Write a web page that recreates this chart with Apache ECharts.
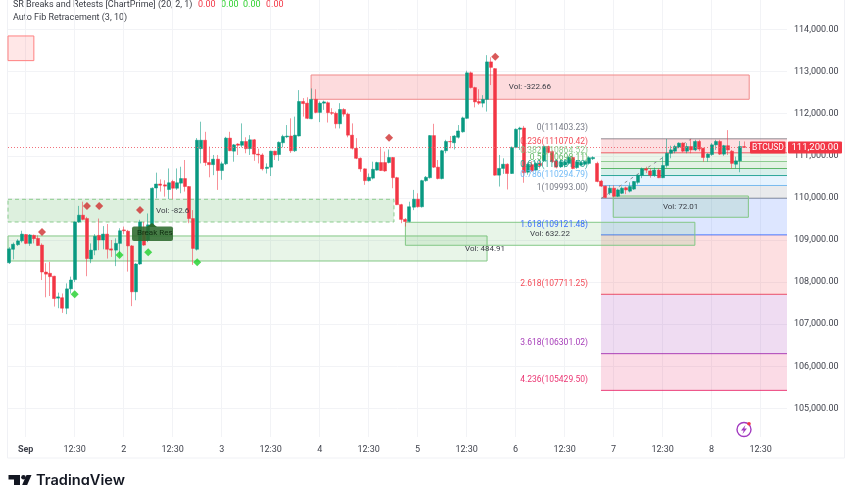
<!DOCTYPE html>
<html>
<head>
<meta charset="utf-8">
<style>
html,body{margin:0;padding:0;background:#fff;overflow:hidden}
#chart{width:852px;height:485px}
</style>
<script src="https://cdn.jsdelivr.net/npm/echarts@6/dist/echarts.min.js"></script>
</head>
<body>
<div id="chart"></div>
<script>
// hourly candles
var opens = [
108460,108780,108890,108980,109130,108920,109110,109040,108880,108240,
108210,108140,107620,107630,107380,107840,108060,109430,109590,109510,
108550,108760,109110,109000,109140,108790,108760,108920,109240,109210,
108860,107770,108430,109200,109000,109350,110235,110330,110310,110200,
110390,110230,110350,110460,110270,109510,108780,111170,111370,110840,
110790,110920,110650,110810,111420,111110,111280,111250,111340,111170,
111380,111040,111020,110700,110730,111110,111030,111310,111450,111470,
111120,111470,112290,112250,111880,112340,112030,112250,112260,112025,
112010,111760,112100,111990,111490,111180,110940,110690,110410,110470,
110660,110840,110840,110840,110960,110480,109840,109490,109440,109780,
109970,109790,110410,110480,111480,110730,110460,111120,111340,111310,
111440,111570,111890,112970,112620,112290,112250,112340,113230,113070,
110540,110700,110800,110580,111200,111630,111660,110610,110790,110660,
110820,110880,111220,111100,110880,110740,110780,110820,110960,110720,
110780,110800,110820,110930,110820,110400,110280,110120,110230,110040,
110110,110240,110160,110210,110370,110540,110690,110640,110540,110660,
110480,110770,111060,111110,111210,111300,111110,111220,111140,111340,
111180,110960,111030,111260,111340,111040,111240,111110,110800,110880,111220];
var closes = [
108790,108900,108980,109140,108920,109120,109030,108870,108240,108190,
108130,107610,107650,107380,107840,108050,109430,109590,109490,108560,
108760,109090,109000,109140,108780,108760,108920,109220,109220,108860,
107770,108430,109430,108880,109360,110230,110330,110300,110280,110360,
110230,110360,110460,110270,109510,108800,111370,111370,110840,110790,
110920,110650,110810,111420,111120,111260,111250,111340,111170,111380,
111040,111020,110690,110730,111110,111020,111320,111460,111470,111120,
111490,112290,112240,111890,112340,112030,112250,112280,112025,112010,
111760,112100,111990,111490,111180,110940,110690,110410,110490,110680,
110840,110650,110640,110960,110480,109840,109490,109440,109790,109970,
109790,110410,110490,111480,110730,110460,111120,111340,111330,111470,
111590,111900,112970,112620,112280,112250,112340,113230,113100,110540,
110700,110800,110580,111200,111630,111660,110600,110800,110640,110820,
110770,111220,111080,110860,110730,110860,110860,110960,110700,110860,
110840,110860,110955,110960,110390,110280,110010,110230,110040,110190,
110230,110190,110270,110390,110540,110690,110660,110540,110660,110480,
110770,111060,111140,111220,111300,111110,111220,111140,111340,111160,
110960,111040,111260,111340,111040,111240,111140,110820,110880,111220,111200];
var lows = [
108430,108540,108860,108940,108900,108860,108920,108860,108050,107640,
107670,107420,107380,107270,107240,107730,108000,109410,109470,108140,
108450,108640,108760,108780,108560,108600,108380,108600,109140,108250,
107430,107570,108410,108860,108950,109320,109990,110150,110030,109970,
109970,110190,110110,110150,109400,108410,108750,110820,110760,110490,
110540,110190,110430,110780,111110,110860,111020,111200,111060,111020,
110880,110820,110650,110580,110520,110900,110880,111200,111420,111070,
111090,111460,111930,111870,111870,112010,111800,112090,111790,111970,
111650,111650,111930,111440,111150,110920,110620,110310,110390,110440,
110650,110640,110620,110820,110230,109830,109400,109320,109420,109710,
109770,109770,110385,110460,110710,110440,110440,111060,111180,111150,
111410,111550,111880,112600,112150,112210,112150,112050,112680,110530,
110270,110570,110200,110570,111180,111140,110360,110550,110620,110640,
110700,110860,111060,110830,110700,110710,110720,110780,110680,110690,
110750,110770,110790,110900,110370,110260,110000,110070,110020,110020,
110090,110090,110130,110190,110320,110470,110590,110480,110500,110470,
110470,110720,110940,111060,111180,111080,111060,111060,111110,111110,
110860,110860,111000,111140,111020,111000,111020,110700,110700,110610,111190];
var highs = [
108830,108940,109020,109220,109140,109140,109130,109110,108920,108450,
108480,108150,107750,107730,107970,108130,109440,109810,109910,109550,
108920,109140,109510,109330,109380,109000,109040,109280,109320,109240,
108880,108450,109480,109430,109630,110250,110600,110440,110420,110700,
110430,110700,110740,110900,110280,109710,111420,111810,111570,111220,
111020,111020,110860,111450,111570,111280,111300,111770,111440,111490,
111400,111170,111060,110820,111120,111120,111340,111500,111730,111890,
111930,112560,112370,112390,112600,112580,112290,112310,112290,112130,
112050,112250,112130,112025,111770,111420,110960,110700,110580,110860,
110860,111180,111100,111150,110970,110500,109860,109520,109910,110190,
110110,110430,110520,111490,111760,110900,111140,111380,111470,111490,
111730,111930,113020,113000,112640,112580,112440,113390,113340,113080,
111020,110940,110820,111220,111650,111690,111710,110840,110870,110860,
110900,111240,111240,111130,110910,110900,110920,111000,110990,110900,
110880,110890,110990,110990,110860,110430,110290,110300,110300,110220,
110270,110270,110370,110400,110550,110720,110740,110700,110720,110700,
110980,111400,111240,111260,111320,111320,111300,111400,111380,111380,
111190,111060,111300,111380,111380,111260,111610,111140,110980,111350,111340];

// axis ticks
var xTickIndex = [4,16,28,40,52,64,76,88,100,112,124,136,148,160,172,184];
var xTickLabel = ['Sep','12:30','2','12:30','3','12:30','4','12:30','5','12:30','6','12:30','7','12:30','8','12:30'];
var yTicks = [105000,106000,107000,108000,109000,110000,111000,112000,113000,114000];

// support / resistance zones
var zoneFrom   = [-0.33,73.9,-0.33,-0.33,97,147.9];
var zoneTo     = [6,181.2,94.2,117,167.9,181];
var zoneTop    = [113846,112919,109967,109096,109421,110046];
var zoneBottom = [113260,112342,109428,108502,108875,109540];
var zoneKind   = ['res','res2','dash','sup','sup','sup'];
var volText  = ['Vol: -322.66','Vol: -82.6','Vol: 484.91','Vol: 632.22','Vol: 72.01'];
var volIndex = [127.5,40,116.5,132.4,164.4];
var volPrice = [112627,109697,108787,109143,109791];

// auto fib levels
var fibRatio = ['0','0.236','0.382','0.5','0.618','0.786','1','1.618','2.618','3.618','4.236'];
var fibPrice = [111403.23,111070.42,110864.52,110698.11,110531.70,110294.79,109993.00,109121.48,107711.25,106301.02,105429.50];
var fibFrom = 144.9, fibLabelIndex = 141.7;
var fibTrendX = [145,167], fibTrendY = [109993,111403];

// signal diamonds
var sellX = [8,19,22,32,93,119], sellY = [109191,109808,109808,109713,111430,113354];
var buyX = [16,27,34,46], buyY = [107711,108644,108708,108471];

var lastPrice = 111200, symbolName = 'BTCUSD';

var UP = '#089981', DOWN = '#f23645', TXT = '#40434d', GRID = '#f2f3f6';
var X_MIN = -0.33, X_MAX = 190.46;
var FIB_COLOR = ['#787b86','#f23645','#81c784','#4caf50','#089981','#64b5f6','#787b86','#2962ff','#f23645','#9c27b0','#e91e63'];
var ZONE_STYLE = {
    res:  {fill:'rgba(255,60,60,.12)', stroke:'#ff8080', dash:null},
    res2: {fill:'rgba(242,54,69,.18)', stroke:'#f08a8a', dash:null},
    dash: {fill:'rgba(76,175,80,.19)', stroke:'#8ccb8e', dash:[4,3]},
    sup:  {fill:'rgba(76,175,80,.13)', stroke:'#82c785', dash:null}
};

var chart = echarts.init(document.getElementById('chart'));

var wickRows = [], bodyRows = [];
for (var i = 0; i < opens.length; i++) {
    wickRows.push([i, opens[i], closes[i], lows[i], highs[i]]);
    bodyRows.push([i, opens[i], closes[i], Math.min(opens[i], closes[i]), Math.max(opens[i], closes[i])]);
}
var zoneRows = zoneFrom.map(function(v, i){ return [v, zoneTop[i], zoneTo[i], zoneBottom[i], i]; });
var fibRows = fibPrice.map(function(v, i){ return [X_MAX, v, i]; });
var volRows = volText.map(function(v, i){ return [volIndex[i], volPrice[i], i]; });

function renderZone(params, api){
    var p0 = api.coord([api.value(0), api.value(1)]);
    var p1 = api.coord([api.value(2), api.value(3)]);
    var st = ZONE_STYLE[zoneKind[api.value(4)]];
    return {
        type:'rect',
        shape:{x:p0[0], y:p0[1], width:p1[0]-p0[0], height:p1[1]-p0[1]},
        style:{fill:st.fill, stroke:st.stroke, lineWidth:1, lineDash:st.dash}
    };
}

function renderFib(params, api){
    var i = api.value(2);
    var left = api.coord([fibFrom, fibPrice[i]]);
    var right = api.coord([X_MAX, fibPrice[i]]);
    var kids = [];
    if (i > 0) {
        var prev = api.coord([fibFrom, fibPrice[i-1]]);
        kids.push({type:'rect', shape:{x:left[0], y:prev[1], width:right[0]-left[0], height:left[1]-prev[1]},
            style:{fill:FIB_COLOR[i], opacity:0.16}});
    }
    kids.push({type:'line', shape:{x1:left[0], y1:left[1], x2:right[0], y2:left[1]},
        style:{stroke:FIB_COLOR[i], lineWidth:1, opacity:0.85}});
    return {type:'group', children:kids};
}

function renderFibLabel(params, api){
    var i = api.value(2);
    var p = api.coord([fibLabelIndex, fibPrice[i]]);
    return {type:'text', x:p[0], y:p[1]-10.5,
        style:{text:fibRatio[i]+'('+fibPrice[i].toFixed(2)+')', fill:FIB_COLOR[i], opacity:i==0||i==6?1:0.9,
            font:'8.5px Roboto', align:'right', verticalAlign:'middle'}};
}

function renderVol(params, api){
    var p = api.coord([api.value(0), api.value(1)]);
    return {type:'text', x:p[0], y:p[1],
        style:{text:volText[api.value(2)], fill:'#3a3d45', font:'8px Roboto', align:'center', verticalAlign:'middle'}};
}

function renderTag(params, api){
    var p = api.coord([X_MAX, api.value(1)]);
    return {type:'group', children:[
        {type:'rect', shape:{x:p[0]-37, y:p[1]-6, width:35.5, height:12, r:1}, style:{fill:DOWN}},
        {type:'text', x:p[0]-19, y:p[1], style:{text:symbolName, fill:'#fff', font:'8.5px Roboto', align:'center', verticalAlign:'middle'}},
        {type:'rect', shape:{x:p[0]+1, y:p[1]-6, width:54, height:12, r:1}, style:{fill:DOWN}},
        {type:'text', x:p[0]+28, y:p[1], style:{text:lastPrice.toLocaleString('en-US',{minimumFractionDigits:2}), fill:'#fff', font:'9.5px Roboto', align:'center', verticalAlign:'middle'}}
    ]};
}

var option = {
    animation:false,
    backgroundColor:'#fff',
    grid:{left:8, right:65, top:0, bottom:48},
    xAxis:{
        type:'value', min:X_MIN, max:X_MAX,
        axisLine:{show:false},
        axisTick:{show:false, customValues:xTickIndex},
        splitLine:{show:true, lineStyle:{color:GRID, width:1}},
        axisLabel:{
            customValues:xTickIndex, margin:8,
            fontFamily:'Roboto', fontSize:9, color:TXT,
            formatter:function(v){
                var lab = xTickLabel[xTickIndex.indexOf(v)];
                return lab == 'Sep' ? '{b|Sep}' : lab;
            },
            rich:{b:{fontFamily:'Roboto', fontSize:9, fontWeight:'bold', color:TXT}}
        }
    },
    yAxis:{
        type:'value', position:'right', min:104322, max:114700,
        axisLine:{show:false},
        axisTick:{show:false, customValues:yTicks},
        splitLine:{show:true, lineStyle:{color:GRID, width:1}},
        axisLabel:{
            customValues:yTicks, margin:7,
            fontFamily:'Roboto', fontSize:9, color:TXT,
            formatter:function(v){ return v.toLocaleString('en-US',{minimumFractionDigits:2}); }
        }
    },
    series:[
        {type:'custom', name:'fib', z:1, data:fibRows, renderItem:renderFib, encode:{x:0, y:1}, silent:true},
        {type:'custom', name:'zones', z:1, data:zoneRows, renderItem:renderZone, encode:{x:[0,2], y:[1,3]}, silent:true},
        {type:'line', name:'fib trend', z:2, symbol:'none', silent:true,
            data:fibTrendX.map(function(v, i){ return [v, fibTrendY[i]]; }),
            lineStyle:{color:'#8a8d96', width:1, type:[3,4]}},
        {type:'candlestick', name:'wicks', z:3, barWidth:1, data:wickRows,
            itemStyle:{color:UP, color0:DOWN, borderColor:UP, borderColor0:DOWN, borderWidth:1, opacity:0.55},
            markLine:{silent:true, symbol:'none', label:{show:false}, animation:false,
                data:[{yAxis:lastPrice}],
                lineStyle:{color:'#f0606c', width:1, type:[1,2], opacity:0.9}}},
        {type:'candlestick', name:'BTCUSD', z:4, barWidth:3.5, data:bodyRows,
            itemStyle:{color:UP, color0:DOWN, borderColor:UP, borderColor0:DOWN, borderWidth:0.5}},
        {type:'custom', name:'fib labels', z:5, data:fibRows, renderItem:renderFibLabel, encode:{x:0, y:1}, silent:true},
        {type:'custom', name:'vol labels', z:5, data:volRows, renderItem:renderVol, encode:{x:0, y:1}, silent:true},
        {type:'scatter', name:'sell', z:6, symbol:'diamond', symbolSize:8,
            data:sellX.map(function(v, i){ return [v, sellY[i]]; }), itemStyle:{color:'#d0302f'}},
        {type:'scatter', name:'buy', z:6, symbol:'diamond', symbolSize:8,
            data:buyX.map(function(v, i){ return [v, buyY[i]]; }), itemStyle:{color:'#1fcf2a'}},
        {type:'custom', name:'price tag', z:10, data:[[X_MAX, lastPrice]], renderItem:renderTag, encode:{x:0, y:1}, silent:true, clip:false}
    ],
    graphic:[
        // frame
        {type:'rect', z:0, shape:{x:7.5, y:-5, width:837, height:463}, style:{fill:'none', stroke:'#f0f1f5', lineWidth:1}},
        // legend
        {type:'text', left:13, top:0, style:{text:'SR Breaks and Retests [ChartPrime] (20, 2, 1)', fill:'#3a3d45', font:'9px Roboto'}},
        {type:'text', left:198, top:0, style:{text:'0.00', fill:'#f23645', font:'9px Roboto'}},
        {type:'text', left:221, top:0, style:{text:'0.00', fill:'#2fd12f', font:'9px Roboto'}},
        {type:'text', left:243, top:0, style:{text:'0.00', fill:'#2fd12f', font:'9px Roboto'}},
        {type:'text', left:266, top:0, style:{text:'0.00', fill:'#f23645', font:'9px Roboto'}},
        {type:'text', left:13, top:13, style:{text:'Auto Fib Retracement (3, 10)', fill:'#3a3d45', font:'9px Roboto'}},
        // break label
        {type:'polygon', z:20, shape:{points:[[147,227],[152,223],[157,227]]}, style:{fill:'#2d6a2d'}},
        {type:'rect', z:20, shape:{x:132, y:226.5, width:41, height:14.5, r:2}, style:{fill:'#2d6a2d', opacity:0.88}},
        {type:'text', z:21, left:137, top:229, style:{text:'Break Res', fill:'#0f2e0f', font:'8px Roboto'}},
        // alert icon
        {type:'circle', z:20, shape:{cx:744, cy:429.5, r:7}, style:{fill:'#fff', stroke:'#a23bc0', lineWidth:1.4}},
        {type:'polygon', z:21, shape:{points:[[745.5,425],[741,430.5],[743.7,430.5],[742.5,434],[747,428.5],[744.3,428.5]]}, style:{fill:'#a23bc0'}},
        {type:'circle', z:22, shape:{cx:749, cy:423.8, r:1.8}, style:{fill:'#f23645'}},
        // logo
        {type:'polygon', shape:{points:[[8.5,475],[20,475],[20,490],[14,490],[14,479.5],[8.5,479.5]]}, style:{fill:'#131722'}},
        {type:'circle', shape:{cx:23.5, cy:477.3, r:2.3}, style:{fill:'#131722'}},
        {type:'polygon', shape:{points:[[26.5,475],[31.5,475],[25,490],[20,490]]}, style:{fill:'#131722'}},
        {type:'text', left:36, top:473, style:{text:'TradingView', fill:'#131722', font:'600 14.6px Inter'}}
    ]
};
chart.setOption(option);
</script>
</body>
</html>
